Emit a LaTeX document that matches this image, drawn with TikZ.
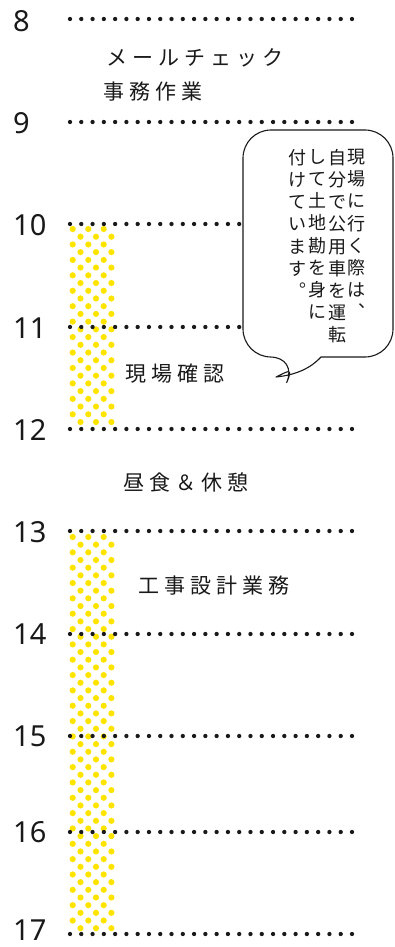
\documentclass[tikz,border=0pt]{standalone}
\usepackage{fontspec}
\setmainfont{Noto Sans}
\newfontfamily\jp{Noto Sans CJK JP}
\definecolor{dotyellow}{RGB}{255,228,0}
\definecolor{ink}{RGB}{25,25,25}
\def\trkend{\relax}
\def\trk#1{\trkloop#1\trkend}
\def\trkloop#1{\ifx#1\trkend\else#1\kern5pt\expandafter\trkloop\fi}
\tikzset{
  hour/.style={anchor=west, inner sep=0pt, font=\fontsize{29}{29}\selectfont, text=ink},
  label/.style={anchor=west, inner sep=0pt, font=\jp\fontsize{21}{21}\selectfont, text=ink},
  vcol/.style={anchor=north, inner sep=0pt, align=center, font=\jp\fontsize{18}{22.2}\selectfont, text=ink},
  dotline/.style={line width=4.3pt, line cap=round, dash pattern=on 0pt off 11.28pt, draw=ink},
  ydot/.style={fill=dotyellow, draw=none},
  bubble/.style={draw=ink, fill=white, line width=1.1pt, line join=round}
}
\begin{document}
\begin{tikzpicture}[x=1pt, y=-1pt]
\useasboundingbox (0,0) rectangle (395,947);
% yellow dotted bars
\foreach \r in {0,...,25}{
  \pgfmathsetmacro{\yy}{229+\r*7.72}
  \ifodd\r
    \foreach \xx in {80.5,96,111.4}{\fill[ydot] (\xx,\yy) circle (3.1);}
  \else
    \foreach \xx in {72.7,88.3,103.7}{\fill[ydot] (\xx,\yy) circle (3.1);}
  \fi
}
\foreach \r in {0,...,51}{
  \pgfmathsetmacro{\yy}{537+\r*7.67}
  \ifodd\r
    \foreach \xx in {80.5,96,111.4}{\fill[ydot] (\xx,\yy) circle (3.1);}
  \else
    \foreach \xx in {72.7,88.3,103.7}{\fill[ydot] (\xx,\yy) circle (3.1);}
  \fi
}
% hour lines and numbers
\foreach \h/\yy/\ny in {8/19/21,9/122/123,10/224/225,11/327/328,12/429/430,13/531/532,14/634/634,15/736/736,16/832/832,17/934/930}{
  \coordinate (l\h a) at (70,\yy);
  \coordinate (l\h b) at (352.6,\yy);
  \draw[dotline] (l\h a) -- (l\h b);
  \node[hour] (h\h) at (13,\ny) {\h};
}
% labels
\node[label] (mail) at (106,58) {\trk{メールチェック}};
\node[label] (jimu) at (103,92) {\trk{事務作業}};
\node[label] (genba) at (125,374) {\trk{現場確認}};
\node[label] (lunch) at (123,482) {\trk{昼食＆休憩}};
\node[label] (koji) at (138,586) {\trk{工事設計業務}};
% speech bubble
\draw[bubble] (321,357) [rounded corners=28] -- (393,357) -- (393,130) -- (243,130) -- (243,357) -- (298,357) [sharp corners]
  .. controls (294,366) and (287,372) .. (276,377)
  .. controls (296,375) and (311,368) .. (321,357) -- cycle;
\node[vcol] (c1) at (356,149) {現\\場\\に\\行\\く\\際\\は\\︑};
\node[vcol] (c2) at (337,149) {自\\分\\で\\公\\用\\車\\を\\運\\転};
\node[vcol] (c3) at (317,149) {し\\て\\土\\地\\勘\\を\\身\\に};
\node[vcol] (c4) at (297,149) {付\\け\\て\\い\\ま\\す\\︒};
\end{tikzpicture}
\end{document}
